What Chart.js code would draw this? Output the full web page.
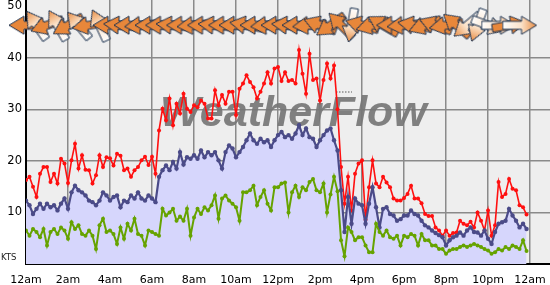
<!DOCTYPE html>
<html>
<head>
<meta charset="utf-8">
<script src="https://cdn.jsdelivr.net/npm/chart.js@4/dist/chart.umd.min.js"></script>
<style>
  html, body { margin: 0; padding: 0; background: #fff; }
  canvas { display: block; }
</style>
</head>
<body>
<canvas id="wind" width="550" height="285"></canvas>
<script>
// readings every 10 minutes from 12am (knots)
const gust = [
  16.3, 16.9, 15, 13, 17.5, 18.8, 18.8, 15.9, 17.5, 15.6, 20.4, 19.5,
  15.7, 20.1, 23.3, 18.5, 21.1, 18.3, 18.2, 15.6, 17.2, 21.1, 18.8, 20.7,
  20.5, 19.1, 21.4, 21, 18.2, 18.5, 16.9, 18.2, 18.8, 20.1, 20.8, 19.2,
  20.8, 17.5, 25.9, 30.1, 27.9, 32.1, 26.9, 31.1, 29.2, 33, 30.1, 29.5,
  30.8, 30.4, 31.7, 31.1, 28.2, 28.2, 33.7, 30.8, 32.8, 31.1, 33.4, 33.4,
  28.9, 34, 35, 36.6, 35.3, 34.3, 32.1, 33.4, 35, 37.2, 35, 37.9,
  38.2, 35.5, 37.2, 35.5, 35.7, 35, 41.5, 36.9, 33, 40.8, 35.7, 36,
  31.7, 35.7, 38.9, 36, 38.5, 30, 18.8, 11.7, 16.9, 10.4, 17.5, 19.5,
  20.1, 8.6, 14.9, 20.1, 15.6, 14.9, 16.9, 15.8, 14.9, 12.7, 12.3, 12.3,
  12.8, 13.6, 15.2, 12.7, 12.7, 11.8, 9.7, 9.3, 9.3, 7.1, 6.5, 5.5,
  6.5, 5.5, 6, 6.1, 8.4, 7.8, 7.5, 8.2, 7.1, 10, 8.4, 6.5,
  10.4, 5.5, 7.5, 15.9, 13, 13.6, 16.5, 14.6, 14.3, 11.4, 11, 9.6
];
const avg = [
  12.3, 11.4, 9.7, 10.7, 11.7, 10.7, 11.7, 11, 11.4, 10.4, 11.7, 12.7,
  10.7, 13.9, 15.2, 14.3, 13.9, 13.3, 12.3, 12, 11.4, 12.3, 13.9, 13.3,
  12.3, 13, 13.3, 11, 12.3, 12, 13.3, 12.7, 13.9, 12.7, 12.3, 13.3,
  12.7, 12, 16.9, 18.2, 19.1, 18.2, 19.8, 18.5, 21.7, 19.3, 20.7, 20.4,
  21.1, 20.4, 22, 20.7, 21.7, 21.1, 21.7, 20.1, 18.5, 21.7, 23, 22.4,
  20.7, 21.7, 22.7, 24, 25.3, 24, 23.3, 24.3, 23.6, 24, 22.7, 24,
  25, 25.6, 24.6, 25, 24.3, 25.3, 26.9, 25, 26.3, 24.6, 24.3, 22.7,
  24, 25, 25.9, 26.3, 24, 22, 14.3, 6.2, 13, 7.8, 12.7, 11.7,
  11.4, 7.8, 11.7, 14.9, 11, 7.1, 10.7, 11, 9.7, 9.4, 8.4, 8.7,
  9.4, 9.4, 10.4, 9.7, 9.4, 8.4, 7.5, 7.1, 6.5, 6, 5.6, 5.2,
  3.6, 4.6, 5.2, 5.5, 6.1, 5.5, 6.5, 7.1, 6.2, 6.1, 5.5, 6.5,
  4.9, 3.9, 6.2, 7.8, 8.1, 8.4, 10.7, 9.4, 8.4, 7.1, 7.8, 6.8
];
const lull = [
  6.5, 5.5, 6.8, 6.2, 5.2, 6.8, 3.6, 6.2, 6.8, 5.8, 7.1, 6.5,
  4.9, 8.1, 6.8, 7.5, 5.8, 5.5, 6.5, 5.5, 2.9, 7.5, 8.8, 6.2,
  6.5, 5.8, 3.9, 7.1, 4.9, 7.8, 6.5, 8.8, 5.8, 5.5, 3.6, 6.5,
  6.2, 5.8, 5.5, 10.7, 9.4, 10, 10.7, 8.4, 9.2, 8.4, 10.7, 5.5,
  9, 10.7, 9.7, 11, 10.4, 11.4, 13.3, 8.8, 12.7, 13.3, 12.3, 11.7,
  11, 8.4, 13.9, 13.9, 14.3, 15.2, 11.4, 13, 14.3, 11.7, 10.4, 14.9,
  14.9, 15.6, 15.8, 10, 13.9, 15.2, 13, 14.9, 14.3, 15.9, 16.5, 14.3,
  13.9, 15.6, 10, 13.5, 16.9, 14.1, 4.6, 1.5, 7.1, 6.2, 4.6, 5.2,
  5.2, 3.6, 2.3, 2.3, 7.8, 6.2, 5.5, 6.5, 5.2, 4.9, 5.5, 3.6,
  5.5, 5.2, 5.8, 5.5, 3.6, 5.8, 4.6, 4.6, 3.6, 3.6, 2.9, 2.9,
  2, 2.6, 2.9, 2.9, 3.3, 3.6, 3.3, 3.6, 3.9, 3.6, 3.3, 2.9,
  2.6, 2, 2.3, 2.9, 2.6, 3.3, 2.9, 3.6, 3.3, 2.9, 4.6, 2.5
];
// direction the arrow points every 30 minutes, degrees clockwise from east (180 = west)
const windDir = [
  180, 235, 160, 240, 150, 230, 170, 245,
  180, 185, 180, 175, 180, 180, 185, 180,
  175, 180, 185, 180, 180, 190, 180, 175,
  180, 185, 180, 175, 200, 145, 225, 100,
  195, 165, 210, 180, 175, 190, 160, 200,
  170, 220, 140, 110, 20, 0, 350, 0
];
const tickLabels = ['12am', '2am', '4am', '6am', '8am', '10am', '12pm', '2pm', '4pm', '6pm', '8pm', '10pm', '12am'];
const yTicks = [0, 10, 20, 30, 40, 50];

const STEP = 10;       // minutes between readings
const DIR_STEP = 30;   // minutes between arrows
const ARROW_KTS = 46.3;
const paleArrows = [1, 3, 5, 7, 31, 42, 43, 44, 45, 47];

function makeArrow(pale) {
  const c = document.createElement('canvas');
  c.width = 36; c.height = 20;
  const g = c.getContext('2d');
  g.beginPath();
  g.moveTo(1, 6); g.lineTo(20, 6); g.lineTo(20, 1); g.lineTo(35, 10);
  g.lineTo(20, 19); g.lineTo(20, 14); g.lineTo(1, 14); g.closePath();
  if (pale) {
    const gr = g.createLinearGradient(0, 0, 36, 0);
    gr.addColorStop(0, '#ffffff');
    gr.addColorStop(0.55, '#fbe2c9');
    gr.addColorStop(1, '#e8873a');
    g.fillStyle = gr;
  } else {
    g.fillStyle = '#e8873a';
  }
  g.fill();
  g.strokeStyle = '#1d3250';
  g.lineWidth = 1;
  g.stroke();
  return c;
}
const orangeArrow = makeArrow(false);
const paleArrow = makeArrow(true);

const toPoints = vals => vals.map((v, i) => ({ x: i * STEP, y: v }));

const decor = {
  id: 'decor',
  beforeDraw(chart) {
    const { ctx, chartArea: a } = chart;
    ctx.save();
    ctx.fillStyle = '#eeeeee';
    ctx.fillRect(a.left, a.top, a.right - a.left, a.bottom - a.top);
    ctx.restore();
  },
  beforeDatasetsDraw(chart) {
    const ctx = chart.ctx;
    ctx.save();
    ctx.font = 'italic bold 43px "Liberation Sans"';
    ctx.fillStyle = 'rgba(118,118,118,0.92)';
    ctx.textBaseline = 'alphabetic';
    ctx.fillText('WeatherFlow', 160, 126);
    ctx.strokeStyle = '#8a8a8a';
    ctx.lineWidth = 1.5;
    ctx.setLineDash([1.5, 1.5]);
    ctx.beginPath();
    ctx.moveTo(336, 92);
    ctx.lineTo(352, 92);
    ctx.stroke();
    ctx.restore();
  },
  afterDraw(chart) {
    const ctx = chart.ctx;
    ctx.save();
    ctx.font = '8.5px "DejaVu Sans"';
    ctx.fillStyle = '#222';
    ctx.fillText('KTS', 1, 259.5);
    ctx.restore();
  }
};

new Chart(document.getElementById('wind'), {
  type: 'line',
  data: {
    datasets: [
      {
        data: windDir.map((d, i) => ({ x: i * DIR_STEP, y: ARROW_KTS })),
        showLine: false,
        pointStyle: windDir.map((d, i) => paleArrows.includes(i) ? paleArrow : orangeArrow),
        pointRotation: windDir,
        pointRadius: 12,
        clip: false,
        order: 0
      },
      {
        data: toPoints(lull),
        borderColor: '#66a300',
        backgroundColor: '#66a300',
        borderWidth: 2,
        pointRadius: 2,
        pointBorderWidth: 0,
        fill: false,
        order: 1
      },
      {
        data: toPoints(avg),
        borderColor: '#4b4b88',
        backgroundColor: '#d6d6fc',
        pointBackgroundColor: '#4b4b88',
        borderWidth: 2.2,
        pointRadius: 2.2,
        pointBorderWidth: 0,
        fill: 'origin',
        order: 2
      },
      {
        data: toPoints(gust),
        borderColor: '#ff1010',
        backgroundColor: '#ff1010',
        borderWidth: 1.6,
        pointRadius: 2,
        pointBorderWidth: 0,
        fill: false,
        order: 3
      }
    ]
  },
  options: {
    responsive: false,
    devicePixelRatio: 1,
    animation: false,
    events: [],
    layout: { padding: 0, autoPadding: false },
    plugins: {
      legend: { display: false },
      tooltip: { enabled: false },
      filler: { drawTime: 'beforeDatasetsDraw' }
    },
    scales: {
      x: {
        type: 'linear',
        min: 0,
        max: 1497,
        afterBuildTicks: s => { s.ticks = tickLabels.map((t, i) => ({ value: i * 120 })); },
        afterFit: s => { s.height = 21; s.paddingLeft = 0; s.paddingRight = 0; },
        ticks: {
          callback: (v, i) => tickLabels[i],
          font: { family: 'DejaVu Sans', size: 11 },
          color: '#000',
          padding: 10,
          maxRotation: 0,
          autoSkip: false
        },
        grid: { color: '#8a8a8a', lineWidth: 1.5, drawTicks: false },
        border: { color: '#000', width: 2 }
      },
      y: {
        min: 0,
        max: 51.2,
        afterBuildTicks: s => { s.ticks = yTicks.map(v => ({ value: v })); },
        afterFit: s => { s.width = 26; s.paddingTop = 0; s.paddingBottom = 0; },
        ticks: {
          callback: v => (v === 0 ? '' : v),
          font: { family: 'DejaVu Sans', size: 11.5 },
          color: '#000',
          padding: 4
        },
        grid: {
          color: c => (c.tick && c.tick.value === 50 ? 'rgba(0,0,0,0)' : '#8a8a8a'),
          lineWidth: 1.5,
          drawTicks: false
        },
        border: { color: '#000', width: 2 }
      }
    }
  },
  plugins: [decor]
});
</script>
</body>
</html>
